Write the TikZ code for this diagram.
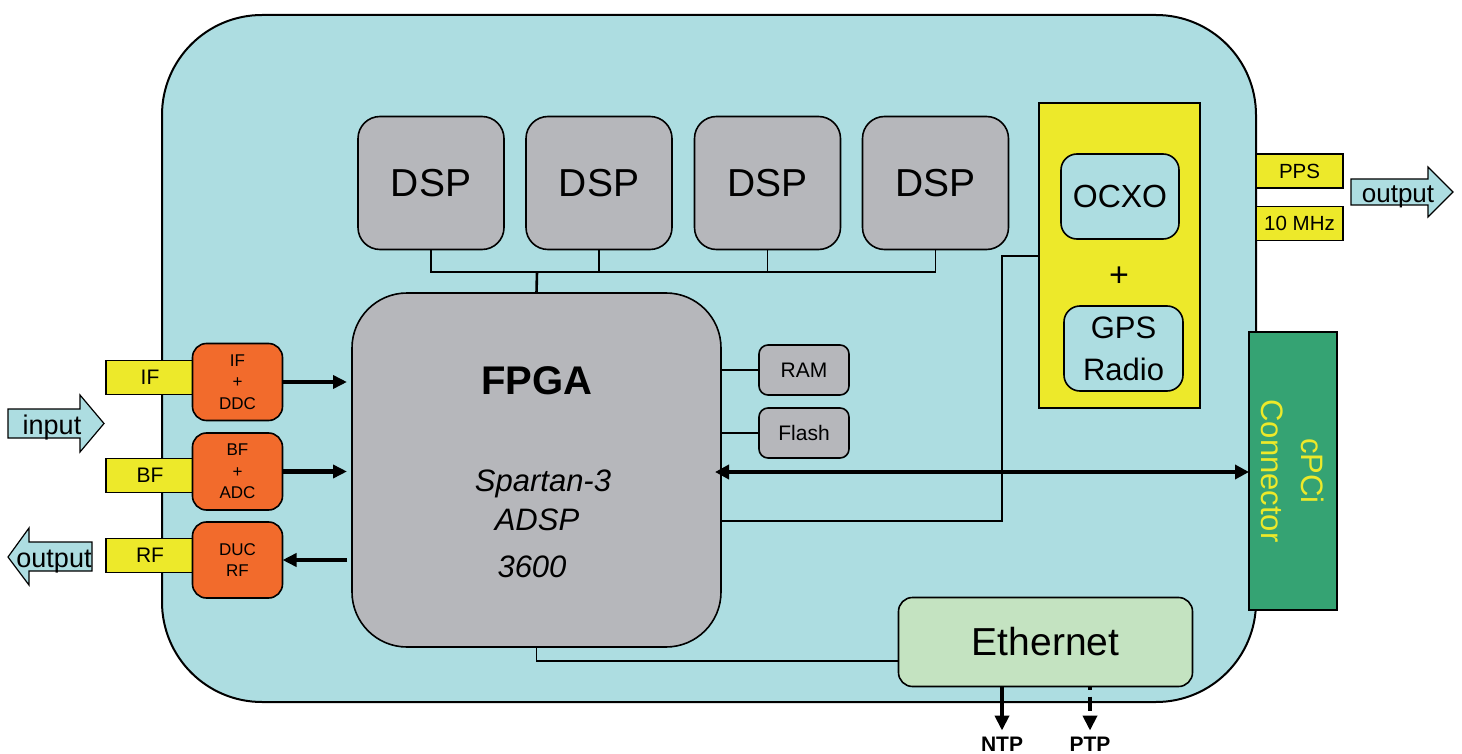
\documentclass[tikz,border=0pt]{standalone}
\usepackage{fontspec}
\setmainfont{Liberation Sans}
\usetikzlibrary{arrows.meta,calc}
\definecolor{boardc}{RGB}{173,221,225}
\definecolor{chip}{RGB}{182,183,187}
\definecolor{ylw}{RGB}{237,233,42}
\definecolor{org}{RGB}{242,107,44}
\definecolor{grn}{RGB}{53,163,115}
\definecolor{ethc}{RGB}{196,227,193}
\begin{document}
\begin{tikzpicture}[x=1pt,y=-1pt,
  box/.style={draw=black, line width=1.6pt, inner sep=0pt, outer sep=0pt, align=center},
  dspbox/.style={box, fill=chip, rounded corners=22pt, minimum width=146pt, minimum height=133pt, font=\fontsize{39}{47}\selectfont},
  membox/.style={box, fill=chip, rounded corners=9pt, minimum width=90pt, minimum height=50pt, font=\fontsize{21}{25}\selectfont},
  lbl/.style={box, fill=ylw, minimum width=87pt, minimum height=34pt, font=\fontsize{21}{25}\selectfont},
  conv/.style={box, fill=org, rounded corners=14pt, minimum width=90pt, minimum height=77pt, font=\fontsize{17}{21.5}\selectfont},
  conn/.style={line width=1.4pt},
  fat/.style={line width=4.5pt, -{Triangle[length=14pt,width=13pt]}},
  bigarrow/.style={draw=black, line width=1.2pt, fill=boardc},
  txt/.style={inner sep=0pt, outer sep=0pt},
]
\useasboundingbox (0,0) rectangle (1462,754);

% board
\node[draw=black, line width=2pt, fill=boardc, rounded corners=100pt,
      minimum width=1094pt, minimum height=687pt, inner sep=0pt] (board) at (709,358.5) {};

% DSPs
\node[dspbox] (dsp1) at (431,183) {DSP};
\node[dspbox] (dsp2) at (599,183) {DSP};
\node[dspbox] (dsp3) at (767.5,183) {DSP};
\node[dspbox] (dsp4) at (935.5,183) {DSP};

% FPGA
\node[box, fill=chip, rounded corners=55pt, minimum width=369pt, minimum height=354pt] (fpga) at (536.5,470) {};
\node[txt, anchor=base, font=\fontsize{40}{46}\selectfont\bfseries] (fpgat) at (537,394) {FPGA};
\node[txt, anchor=base, font=\fontsize{31}{36}\selectfont\itshape] (spt) at (543,491) {Spartan-3};
\node[txt, anchor=base, font=\fontsize{31}{36}\selectfont\itshape] (adsp) at (537,530) {ADSP};
\node[txt, anchor=base, font=\fontsize{31}{36}\selectfont\itshape] (n3600) at (532,577) {3600};

% memories
\node[membox] (ram) at (804,370) {RAM};
\node[membox] (flash) at (804,433) {Flash};

% GPS / OCXO
\node[box, fill=ylw, minimum width=161pt, minimum height=305pt] (gpsbox) at (1119.5,255.5) {};
\node[box, fill=boardc, rounded corners=16pt, minimum width=118pt, minimum height=85pt, font=\fontsize{32}{38}\selectfont] (ocxo) at (1120,196.5) {OCXO};
\node[txt, font=\fontsize{34}{40}\selectfont] (plus) at (1119,277) {+};
\node[box, fill=boardc, rounded corners=16pt, minimum width=119pt, minimum height=85pt, font=\fontsize{31}{42}\selectfont] (gps) at (1123.5,348.5) {GPS\\Radio};

% PPS / 10 MHz
\node[lbl, minimum width=87pt, font=\fontsize{20.5}{24}\selectfont] (pps) at (1299.5,171) {PPS};
\node[lbl, minimum width=87pt, font=\fontsize{20.5}{24}\selectfont] (mhz) at (1299.5,223.5) {10 MHz};
\draw[bigarrow] (1351,179) -- (1428,179) -- (1428,167) -- (1453,192) -- (1428,217) -- (1428,205) -- (1351,205) -- cycle;
\node[txt, anchor=base, font=\fontsize{26}{30}\selectfont] (outr) at (1398,203) {output};

% cPCi connector
\node[box, fill=grn, minimum width=88pt, minimum height=278pt] (cpci) at (1293,471) {};
\node[txt, rotate=-90, align=center, text=ylw, font=\fontsize{31}{40}\selectfont] (cpcit) at (cpci.center) {cPCi\\Connector};

% Ethernet
\node[box, fill=ethc, rounded corners=14pt, minimum width=294pt, minimum height=89pt, font=\fontsize{39}{46}\selectfont] (eth) at (1045.5,642) {Ethernet};
\node[txt, anchor=base, font=\fontsize{21}{25}\selectfont\bfseries] (ntp) at (1002,751) {NTP};
\node[txt, anchor=base, font=\fontsize{21}{25}\selectfont\bfseries] (ptp) at (1090,751) {PTP};

% left side labels
\node[lbl, minimum width=88pt] (ifl) at (150,377.5) {IF};
\node[lbl, minimum width=88pt] (bfl) at (150,475.5) {BF};
\node[lbl, minimum width=88pt] (rfl) at (150,555.5) {RF};
\node[conv] (ifddc) at (237.5,382) {IF\\+\\DDC};
\node[conv] (bfadc) at (237.5,471.5) {BF\\+\\ADC};
\node[conv, minimum height=76pt] (ducrf) at (237.5,560) {DUC\\RF};

% input / output arrows (left)
\draw[bigarrow] (8,409) -- (80,409) -- (80,395) -- (104,423.5) -- (80,452) -- (80,438) -- (8,438) -- cycle;
\node[txt, anchor=base, font=\fontsize{27}{31}\selectfont] (inp) at (52,434) {input};
\draw[bigarrow] (92,542) -- (29,542) -- (29,528) -- (8,557) -- (29,585) -- (29,571) -- (92,571) -- cycle;
\node[txt, anchor=base, font=\fontsize{27}{31}\selectfont] (outl) at (54,567) {output};

% connectors
\coordinate (bus) at (537,272);
\draw[conn] (dsp1.south) -- (dsp1.south |- bus) -- (dsp4.south |- bus) -- (dsp4.south);
\draw[conn] (dsp2.south) -- (dsp2.south |- bus);
\draw[conn] (dsp3.south) -- (dsp3.south |- bus);
\draw[line width=2.6pt] (bus) -- (fpga.north);

\draw[conn] (ram.west) -- (ram.west -| fpga.east);
\draw[conn] (flash.west) -- (flash.west -| fpga.east);

\coordinate (j1) at (1002,521);
\coordinate (j2) at (1002,256);
\draw[conn] (fpga.east |- j1) -- (j1) -- (j2) -- (j2 -| gpsbox.west);

\coordinate (ea) at (0,661);
\draw[conn] (fpga.south) -- (fpga.south |- ea) -- (eth.west |- ea);

\coordinate (da) at (0,472);
\draw[line width=4.5pt, {Triangle[length=14pt,width=14pt]}-{Triangle[length=14pt,width=14pt]}, shorten <=-6pt]
  (fpga.east |- da) -- (cpci.west |- da);

\draw[fat, shorten >=5pt] (ifddc.east) -- (ifddc.east -| fpga.west);
\draw[fat, shorten >=5pt] (bfadc.east) -- (bfadc.east -| fpga.west);
\draw[fat, shorten <=5pt] (ducrf.east -| fpga.west) -- (ducrf.east);

\draw[line width=4pt, -{Triangle[length=15pt,width=14pt]}, shorten >=6pt] (eth.south -| ntp) -- (ntp.north);
\draw[line width=4pt, -{Triangle[length=15pt,width=14pt]}, shorten >=6pt, dash pattern=on 3pt off 7pt on 14pt off 5pt] (eth.south -| ptp) -- (ptp.north);
\end{tikzpicture}
\end{document}
